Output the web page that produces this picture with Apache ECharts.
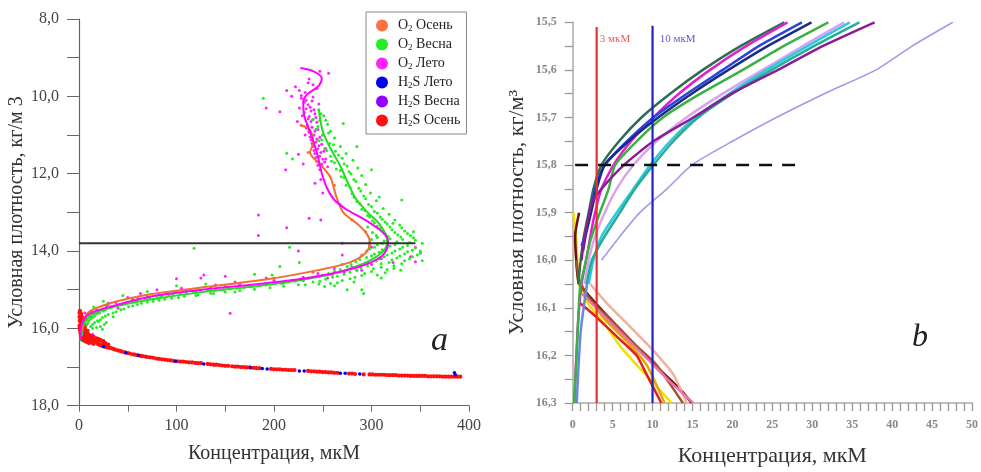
<!DOCTYPE html>
<html><head><meta charset="utf-8">
<script src="https://cdn.jsdelivr.net/npm/echarts@6/dist/echarts.min.js"></script>
<style>html,body{margin:0;padding:0;background:#fff}#c{width:981px;height:472px}</style>
</head><body><div id="c"></div><script>
// ---------- Panel a ----------
const aXLabelVals = [0, 100, 200, 300, 400];
const aYLabelVals = [8, 10, 12, 14, 16, 18];
const legendNames = ['O2 Осень', 'O2 Весна', 'O2 Лето', 'H2S Лето', 'H2S Весна', 'H2S Осень'];
const legendRich = ['{f|O}{s|2}{n| Осень}', '{f|O}{s|2}{n| Весна}', '{f|O}{s|2}{n| Лето}', '{f|H}{s|2}{n|S Лето}', '{f|H}{s|2}{n|S Весна}', '{f|H}{s|2}{n|S Осень}'];
const o2AutumnPts = [[228,10.75],[236,10.88],[240,11.2],[235,11.45],[249,11.8],[262,12.3],[268,12.8],[280,13.2],[294,13.5],[298,13.85],[290,14.1],[270,14.35],[240,14.55],[200,14.7],[150,14.9],[100,15.05],[60,15.2],[30,15.38],[12,15.55],[5,15.8],[3,16.0]];
const o2SummerPts = [[222,9.75],[226,9.85],[228,9.98],[232,9.9],[236,9.55],[240,9.7],[247,9.35],[256,9.4],[244,9.8],[231,10.15],[235,10.22],[239,10.12],[233,10.32],[238,10.38],[242,10.45],[236,10.52],[240,10.6],[244,10.67],[234,10.74],[239,10.8],[245,10.86],[236,10.93],[241,11.0],[247,11.06],[238,11.12],[243,11.18],[249,11.24],[240,11.3],[245,11.36],[251,11.42],[242,11.48],[247,11.55],[253,11.62],[244,11.68],[249,11.75],[255,11.82],[192,10.3],[206,10.4],[213,9.85],[218,10.0],[225,11.5],[212,11.9],[230,11.75],[248,12.15],[184,13.07],[184,13.6],[236,13.15],[248,13.2],[213,13.4],[225,14.0],[270,14.1],[350,14.05],[345,14.28],[300,13.9],[272,14.55],[262,14.45],[192,14.7],[128,14.62],[100,14.72],[155,15.61],[63,15.1],[50,15.2],[30,15.35],[40,15.48],[20,15.55],[12,15.7],[8,15.9],[105,14.96],[140,14.88],[160,14.8],[270,13.8],[280,14.42],[245,14.58],[255,14.7],[230,14.76],[210,14.82],[175,14.92],[120,15.05],[85,15.15],[60,15.28],[45,15.38],[25,15.5],[15,15.62],[10,15.8],[5,16.0],[3,16.2],[14,16.15],[8,16.25],[345,13.9],[340,14.15],[322,14.3],[290,14.5],[250,12.5],[242,12.25],[150,14.65],[125,14.7],[80,15.0],
 [228,10.05],[233,10.1],[237,10.28],[231,10.42],[241,10.35],[235,10.58],[243,10.55],[238,10.65],[233,10.82],[242,10.9],[237,11.05],[244,11.1],[239,11.22],[246,11.28],[241,11.4],[248,11.45],[243,11.58],[250,11.62],[245,11.78],[252,11.7],[247,11.9],[240,10.02],[246,10.2],[226,10.3],[229,10.5],[250,11.0],[253,11.35],[235,9.65],[224,10.65],[232,11.0],
 [200,14.76],[165,14.86],[135,14.95],[110,15.02],[90,15.1],[70,15.18],[55,15.25],[38,15.33],[28,15.42],[18,15.52],[230,14.68],[260,14.6],[285,14.5],[300,14.35],[310,14.2],
 [6,15.6],[9,15.65],[14,15.58],[4,15.7],[7,15.75]];
const o2SpringPts = [[189,10.05],[246,10.35],[251,10.5],[247,10.62],[255,10.72],[243,10.85],[258,10.9],[250,11.0],[262,11.08],[246,11.15],[257,11.22],[268,11.3],[252,11.35],[263,11.42],[274,11.48],[258,11.55],[270,11.6],[281,11.65],[262,11.72],[275,11.8],[286,11.85],[268,11.92],[279,12.0],[290,12.05],[272,12.1],[284,12.2],[294,12.28],[278,12.35],[289,12.45],[299,12.5],[282,12.6],[294,12.65],[305,12.7],[288,12.78],[300,12.85],[312,12.9],[293,12.95],[306,13.02],[318,13.05],[298,13.12],[311,13.18],[324,13.2],[303,13.27],[316,13.3],[329,13.33],[296,13.38],[309,13.42],[321,13.45],[334,13.48],[301,13.52],[314,13.55],[327,13.58],[340,13.6],[306,13.65],[319,13.68],[332,13.7],[345,13.72],[298,13.78],[311,13.8],[324,13.83],[337,13.86],[303,13.9],[316,13.92],[329,13.95],[342,13.98],[295,14.0],[308,14.03],[321,14.05],[334,14.08],[347,14.1],[300,14.12],[313,14.15],[326,14.18],[339,14.2],[288,14.22],[305,14.26],[318,14.3],[331,14.33],[279,14.35],[296,14.38],[310,14.42],[323,14.45],[268,14.48],[285,14.5],[300,14.53],[314,14.56],[256,14.58],[272,14.6],[290,14.63],[243,14.66],[260,14.68],[278,14.72],[230,14.74],[247,14.78],[265,14.82],[215,14.8],[200,14.84],[232,14.87],[185,14.9],[252,14.92],[170,14.94],[290,15.0],[155,14.98],[140,15.01],[125,15.04],[160,15.06],[110,15.08],[138,15.1],[96,15.12],[120,15.15],[84,15.17],[102,15.2],[72,15.22],[88,15.25],[60,15.27],[76,15.3],[50,15.32],[64,15.35],[42,15.38],[55,15.42],[34,15.45],[46,15.5],[27,15.52],[38,15.57],[21,15.6],[30,15.64],[16,15.68],[24,15.72],[12,15.76],[19,15.8],[9,15.86],[14,15.9],[6,15.98],[10,16.05],[4,16.15],[2,16.3],[118,13.93],[213,11.47],[219,11.62],[308,12.6],[331,12.68],[343,13.5],[206,14.4],[216,13.9],[292,15.1],[246,14.85],[350,14.0],[352,14.25],[198,14.62],[240,10.6],[262,14.9],[275,15.0],[226,14.3],[330,14.5],[310,14.7],[282,14.8],[180,14.6],[100,14.9],[130,14.85],[70,15.05],[45,15.15],[25,15.3],[15,15.45],[35,15.7],[28,15.85],[22,15.95],[271,10.7],[285,11.3],[300,11.9],
 [248,10.45],[253,10.62],[245,10.78],[256,10.95],[249,11.12],[261,11.25],[254,11.4],[266,11.52],[259,11.68],[272,11.75],[264,11.88],[277,11.95],[269,12.08],[282,12.15],[274,12.3],[287,12.38],[280,12.52],[292,12.58],[285,12.72],[297,12.8],[290,12.92],[303,12.98],[296,13.08],[309,13.12],[301,13.22],[314,13.25],[322,13.28],[306,13.35],[319,13.38],[331,13.4],[311,13.48],[324,13.52],[337,13.55],[305,13.6],[317,13.62],[330,13.64],[343,13.66],[300,13.7],[313,13.74],[326,13.76],[339,13.78],[352,13.8],[306,13.84],[319,13.87],[332,13.9],[345,13.92],[298,13.95],[311,13.97],[324,14.0],[337,14.02],[350,14.05],[303,14.08],[316,14.1],[329,14.13],[342,14.15],[295,14.17],[308,14.2],[321,14.23],[334,14.25],[284,14.28],[297,14.3],[310,14.33],[323,14.38],[275,14.4],[289,14.43],[302,14.46],[316,14.48],[262,14.52],[278,14.55],[293,14.58],[306,14.62],[250,14.62],[265,14.65],[283,14.68],[236,14.7],[253,14.73],[270,14.76],[222,14.78],[240,14.8],[258,14.84],[208,14.84],[225,14.87],[192,14.88],[210,14.91],[177,14.92],[196,14.95],[162,14.96],[180,14.99],[148,15.0],[165,15.03],[132,15.02],[150,15.06],[117,15.06],[135,15.09],[104,15.1],[122,15.13],[92,15.14],[108,15.17],[80,15.19],[95,15.22],[68,15.24],[82,15.27],[57,15.29],[70,15.32],[48,15.34],[60,15.38],[40,15.4],[51,15.44],[32,15.47],[43,15.52],[25,15.55],[35,15.6],[18,15.62],[27,15.68],[14,15.72],[22,15.78],[10,15.8],[16,15.85],[7,15.9],[12,15.95],[5,16.05],[8,16.1],[3,16.2],[6,16.25],
 [20,15.82],[26,15.9],[18,15.98],[24,16.02],[14,16.0]];
const h2sSummerPts = [[25,16.47],[48,16.63],[61,16.7],[99,16.85],[128,16.92],[176,17.02],[188,17.04],[193,17.05],[226,17.1],[231,17.1],[268,17.16],[273,17.16],[288,17.18],[385,17.15],[386,17.2]];
const h2sSpringPts = [[6,16.2],[10,16.28],[33,16.52],[139,16.95],[250,17.13],[120,16.9]];
const h2sAutumnPts = [[1,15.55],[2,15.62],[0.5,15.7],[3,15.76],[1.5,15.82],[4,15.88],[0.5,15.93],[2.5,15.98],[5,16.02],[1,16.05],[7,16.08],[3,16.1],[9,16.13],[5,16.16],[11,16.18],[2,16.2],[13,16.22],[7,16.24],[15,16.27],[10,16.3],[4,16.3],[17,16.32],[8,16.35],[13,16.37],[19,16.4],[23,16.45],[27,16.48],[31,16.5],[35,16.53],[40,16.57],[44,16.6],[52,16.65],[57,16.68],[65,16.72],[70,16.74],[76,16.76],[82,16.79],[88,16.81],[94,16.83],[104,16.86],[110,16.87],[116,16.88],[122,16.9],[135,16.93],[141,16.94],[147,16.96],[153,16.97],[160,16.99],[166,17.0],[172,17.01],[182,17.03],[200,17.06],[206,17.06],[212,17.07],[218,17.08],[238,17.11],[244,17.12],[250,17.13],[256,17.14],[262,17.15],[280,17.17],[298,17.19],[304,17.2],[310,17.2],[316,17.21],[322,17.21],[328,17.22],[334,17.22],[340,17.23],[346,17.23],[352,17.23],[358,17.24],[364,17.24],[370,17.24],[376,17.25],[382,17.25],[388,17.25],[391,17.25],
 [0.5,15.6],[1.5,15.68],[2.5,15.72],[0.8,15.8],[2,15.86],[3.5,15.92],[1,15.97],[6,15.98],[2,16.02],[3.5,16.05],[8,16.06],[1.5,16.12],[6,16.12],[4,16.18],[8,16.2],[12,16.2],[6,16.28],[10,16.25],[14,16.25],[12,16.32],[16,16.35],[6,16.33],[10,16.38],[15,16.4],[21,16.43],[25,16.46],[29,16.49],[33,16.51],[37,16.55],[42,16.58],[47,16.62],[50,16.64],[55,16.67],[60,16.69],[63,16.71],[68,16.73],[73,16.75],[79,16.78],[85,16.8],[91,16.82],[97,16.84],[101,16.85],[107,16.86],[113,16.88],[119,16.89],[125,16.9],[132,16.92],[138,16.94],[144,16.95],[150,16.97],[157,16.98],[163,16.99],[169,17.0],[175,17.01],[179,17.02],[185,17.03],[197,17.05],[203,17.06],[209,17.07],[215,17.08],[221,17.08],[235,17.1],[241,17.11],[247,17.12],[253,17.13],[259,17.14],[265,17.15],[277,17.17],[283,17.18],[292,17.19],[301,17.19],[307,17.2],[313,17.2],[319,17.21],[325,17.21],[331,17.22],[337,17.22],[343,17.23],[349,17.23],[355,17.23],[361,17.24],[367,17.24],[373,17.25],[379,17.25],[385,17.25],
 [5,16.15],[10,16.18],[15,16.22],[18,16.26],[22,16.3],[25,16.33],[20,16.36],[12,16.28],[16,16.3],[9,16.27],[3,16.25],[7,16.22],[11,16.24],[20,16.28],[27,16.38],[30,16.42],[24,16.4],[2,15.65],[3,15.72],[1,15.78],[4,15.84],[2,15.9],[5,15.95],[3,16.0],[6,16.05],[2,16.08],[8,16.1],[4,16.14]];
const o2SummerLine = [[227,9.27],[240,9.35],[249,9.53],[245,9.75],[234,9.95],[230,10.15],[231,10.5],[236,10.85],[240,11.13],[245,11.55],[249,11.99],[254,12.35],[262,12.68],[274,12.92],[289,13.13],[300,13.3],[310,13.48],[316,13.65],[317,13.8],[311,14.12],[288,14.4],[244,14.66],[193,14.83],[124,15.01],[73,15.18],[32,15.44],[11,15.62],[4.5,15.8],[2,15.98],[1.5,16.15],[2,16.3]];
const o2SpringLine = [[246,10.35],[250,10.9],[258,11.35],[268,11.8],[276,12.25],[284,12.65],[296,13.0],[308,13.3],[315,13.6],[316,13.8],[310,14.05],[292,14.32],[258,14.6],[200,14.85],[130,15.05],[75,15.25],[35,15.45],[13,15.65],[5,15.9],[3,16.2]];
const o2AutumnLine = [[227,10.74],[237,10.87],[240,11.2],[237,11.45],[249,11.8],[258,12.1],[264,12.6],[271,13.0],[285,13.29],[295,13.55],[298.5,13.8],[294,14.05],[277,14.3],[244,14.5],[193,14.73],[124,14.95],[73,15.12],[32,15.35],[11,15.56],[4.5,15.8],[2.5,16.1]];
const aRefLine = [[0,13.8],[345,13.8]];

// ---------- Panel b ----------
const bXLabelVals = [0,5,10,15,20,25,30,35,40,45,50];
const bYLabelVals = [15.5,15.6,15.7,15.8,15.9,16.0,16.1,16.2,16.3];
const bO2Colors = ['#2e6e50','#e020d0','#2a44dd','#1c2a85','#3cb043','#d8a4f0','#30c8e0','#26ad96','#8a1c9a','#9c9cec','#6688e0'];
const bO2Curves = [
 [[26.5,15.5],[21,15.55],[16.3,15.6],[12.2,15.65],[8.6,15.7],[5.8,15.75],[3.6,15.8],[2.6,15.85],[2.0,15.9],[1.4,15.95],[1.0,16.0],[0.7,16.05]],
 [[26.9,15.5],[21.7,15.55],[17.2,15.6],[13.3,15.65],[10.1,15.7],[7.3,15.75],[5.1,15.8],[3.6,15.85],[2.8,15.9],[2.2,15.95],[1.7,16.0],[1.1,16.05],[0.6,16.15],[0.2,16.3]],
 [[28.7,15.5],[23.3,15.55],[18.8,15.6],[14.3,15.65],[10.1,15.7],[6.8,15.75],[4.0,15.8],[2.8,15.85],[2.2,15.9],[1.5,15.95],[1.1,15.97]],
 [[29.9,15.5],[24.4,15.55],[19.5,15.6],[14.9,15.65],[10.7,15.7],[7.0,15.75],[4.0,15.8],[3.0,15.85],[2.3,15.9],[1.6,15.95],[1.3,15.98]],
 [[32.0,15.5],[26.4,15.55],[21.3,15.6],[16.0,15.65],[11.3,15.7],[8.0,15.75],[5.3,15.8],[4.5,15.85],[3.4,15.9],[2.2,15.96],[1.4,16.02],[0.9,16.06],[0.6,16.16],[0.2,16.3]],
 [[34.0,15.5],[28.8,15.55],[23.8,15.6],[18.8,15.65],[14.25,15.7],[10.5,15.75],[7.6,15.8],[5.5,15.85],[4.0,15.9],[2.8,15.95],[2.0,16.0],[1.5,16.05]],
 [[34.7,15.5],[29.4,15.55],[24.25,15.6],[19.6,15.65],[15.3,15.7],[12.2,15.75],[9.7,15.8],[7.6,15.85],[5.5,15.9],[3.6,15.95],[2.6,16.0],[2.0,16.05]],
 [[35.9,15.5],[30.2,15.55],[24.9,15.6],[20.0,15.65],[15.7,15.7],[12.6,15.75],[10.1,15.8],[7.8,15.85],[5.9,15.9],[4.0,15.95],[2.4,16.0],[1.75,16.05]],
 [[37.8,15.5],[31.3,15.55],[25.7,15.6],[19.9,15.65],[15.1,15.7],[10.1,15.75],[6.4,15.8],[3.6,15.85],[2.4,15.88],[1.5,15.95],[1.1,16.0]],
 [[47.6,15.5],[42.5,15.55],[38.0,15.6],[31.5,15.65],[25.5,15.7],[20.0,15.75],[14.9,15.8],[11.8,15.85],[8.4,15.9],[5.9,15.95],[3.6,16.0]],
 [[1.8,16.05],[1.0,16.15],[0.5,16.3]]
];
const bH2SColors = ['#f2e000','#e0a800','#6b1010','#a0522d','#f0b0a0','#e02020','#ee70b0'];
const bH2SCurves = [
 [[0.1,15.9],[0.5,15.97],[0.7,16.045],[1.5,16.08],[2.8,16.11],[4.25,16.14],[5.9,16.18],[8.0,16.22],[9.7,16.25],[11.3,16.28],[12.4,16.3]],
 [[0.3,15.94],[0.6,16.03],[1.75,16.07],[3.8,16.12],[6.75,16.17],[9.25,16.22],[11.5,16.3]],
 [[0.8,15.9],[0.3,15.95],[0.7,16.045],[1.3,16.06],[3.4,16.1],[5.9,16.145],[8.4,16.19],[10.9,16.23],[13.4,16.27],[14.9,16.3]],
 [[0.5,16.0],[0.9,16.05],[2.6,16.09],[5.1,16.13],[8.0,16.18],[10.5,16.22],[13.8,16.3]],
 [[2.2,16.05],[4.25,16.09],[7.2,16.14],[10.1,16.19],[12.6,16.24],[14.25,16.3]],
 [[0.9,16.09],[3.0,16.12],[5.5,16.16],[8.0,16.2],[9.25,16.24],[11.1,16.3]],
 [[1.2,16.07],[3.5,16.11],[6.5,16.16],[9.5,16.21],[12.5,16.26],[15.1,16.3]]
];
const bLine3 = [[3,15.51],[3,16.3]];
const bLine10 = [[10,15.507],[10,16.3]];
const bDashed = [[0.3,15.8],[28.5,15.8]];
const bLabel3 = [[3.4,15.535]];
const bLabel10 = [[10.9,15.535]];

const SERIF = 'Liberation Serif';
const fmtComma = v => v.toFixed(1).replace('.', ',');
const near = (arr, v) => arr.some(a => Math.abs(a - v) < 1e-6);

const chart = echarts.init(document.getElementById('c'), null, {renderer: 'canvas'});

const series = [];
function scat(name, data, color, size) {
  series.push({name, type: 'scatter', xAxisIndex: 0, yAxisIndex: 0, data, symbolSize: size || 3,
    itemStyle: {color, opacity: 1}, silent: true, animation: false, large: false});
}
scat('O2 Осень', o2AutumnPts, '#ff7040');
scat('O2 Лето', o2SummerPts, '#ff22ff');
scat('O2 Весна', o2SpringPts, '#22ee22');
scat('H2S Весна', h2sSpringPts, '#9400ff', 3.5);
scat('H2S Осень', h2sAutumnPts, '#ff1010', 4.2);
scat('H2S Лето', h2sSummerPts, '#0000ee', 3.5);
function lineA(data, color, w, extra) {
  series.push(Object.assign({type: 'line', xAxisIndex: 0, yAxisIndex: 0, data, showSymbol: false, symbol: 'none',
    lineStyle: {color, width: w}, silent: true, animation: false}, extra || {}));
}
lineA(o2SpringLine, '#22dd22', 2, {smooth: 0.3});
lineA(o2AutumnLine, '#f07030', 2, {smooth: 0.3});
lineA(o2SummerLine, '#ff00ff', 2, {smooth: 0.3});
lineA(aRefLine, '#333333', 2);

function lineB(data, color, w, extra) {
  series.push(Object.assign({type: 'line', xAxisIndex: 1, yAxisIndex: 1, data, showSymbol: false, symbol: 'none',
    lineStyle: {color, width: w}, silent: true, animation: false}, extra || {}));
}
bH2SCurves.forEach((c, i) => lineB(c, bH2SColors[i], 2.5, {smooth: 0.2}));
bO2Curves.forEach((c, i) => lineB(c, bO2Colors[i], i === 9 ? 1.6 : 2.5, {smooth: 0.2}));
lineB(bLine3, '#e83030', 2.2);
lineB(bLine10, '#2020c8', 2.2);
lineB(bDashed, '#111111', 2.5, {lineStyle: {color: '#111', width: 2.5, type: [13, 10]}});
function labelB(data, text, color) {
  series.push({type: 'scatter', xAxisIndex: 1, yAxisIndex: 1, data, symbolSize: 0, silent: true, animation: false,
    label: {show: true, position: 'right', distance: 0, formatter: text, color, fontFamily: SERIF, fontSize: 11}});
}
labelB(bLabel3, '3 мкМ', '#e03030');
labelB(bLabel10, '10 мкМ', '#3030c0');

const option = {
  backgroundColor: '#ffffff',
  animation: false,
  grid: [
    {left: 79, top: 19, width: 390, height: 386.7},
    {left: 572.7, top: 22.3, width: 399.6, height: 386}
  ],
  legend: {
    data: legendNames, orient: 'vertical', left: 366, top: 12, icon: 'circle',
    itemWidth: 12, itemHeight: 12, itemGap: 4, padding: [6, 6, 6, 10],
    borderColor: '#888', borderWidth: 1, backgroundColor: '#fff',
    selectedMode: false,
    formatter: n => legendRich[legendNames.indexOf(n)],
    textStyle: {fontFamily: SERIF, fontSize: 14, color: '#222',
      rich: {f: {fontFamily: SERIF, fontSize: 14, color: '#222', lineHeight: 16, padding: [0, 0, 0, 5]},
             n: {fontFamily: SERIF, fontSize: 14, color: '#222', lineHeight: 16},
             s: {fontFamily: SERIF, fontSize: 9, color: '#222', lineHeight: 16, padding: [6, 0, 0, 0]}}}
  },
  xAxis: [
    {type: 'value', gridIndex: 0, min: 0, max: 400, interval: 50,
     name: 'Концентрация, мкМ', nameLocation: 'middle', nameGap: 38,
     nameTextStyle: {fontFamily: SERIF, fontSize: 20, color: '#333'},
     axisLine: {onZero: false, lineStyle: {color: '#666', width: 1.2}},
     axisTick: {show: true, length: 6, lineStyle: {color: '#666'}},
     axisLabel: {margin: 12, fontFamily: SERIF, fontSize: 16, color: '#444',
       formatter: v => near(aXLabelVals, v) ? String(v) : ''},
     splitLine: {show: false}},
    {type: 'value', gridIndex: 1, min: 0, max: 50, interval: 1,
     name: 'Концентрация, мкМ', nameLocation: 'middle', nameGap: 42,
     nameTextStyle: {fontFamily: SERIF, fontSize: 22, color: '#333'},
     axisLine: {onZero: false, lineStyle: {color: '#aaa', width: 1.5}},
     axisTick: {show: true, length: 8, lineStyle: {color: '#999', width: 1.3}},
     axisLabel: {margin: 16, fontFamily: SERIF, fontSize: 12, fontWeight: 'bold', color: '#888',
       formatter: v => near(bXLabelVals, v) ? String(v) : ''},
     splitLine: {show: false}}
  ],
  yAxis: [
    {type: 'value', gridIndex: 0, min: 8, max: 18, interval: 1, inverse: true,
     name: 'Условная плотность, кг/м 3', nameLocation: 'middle', nameGap: 52, nameRotate: 90,
     nameTextStyle: {fontFamily: SERIF, fontSize: 20, color: '#333'},
     axisLine: {onZero: false, lineStyle: {color: '#666', width: 1.2}},
     axisTick: {show: true, length: 12, lineStyle: {color: '#666'}},
     axisLabel: {margin: 20, fontFamily: SERIF, fontSize: 16, color: '#444',
       formatter: v => near(aYLabelVals, v) ? fmtComma(v) : ''},
     splitLine: {show: false}},
    {type: 'value', gridIndex: 1, min: 15.5, max: 16.3, interval: 0.05, inverse: true,
     name: 'Условная плотность, кг/м³', nameLocation: 'middle', nameGap: 44, nameRotate: 90,
     nameTextStyle: {fontFamily: SERIF, fontSize: 22, color: '#333'},
     axisLine: {onZero: false, lineStyle: {color: '#aaa', width: 1.5}},
     axisTick: {show: true, length: 8, lineStyle: {color: '#999', width: 1.3}},
     axisLabel: {margin: 16, fontFamily: SERIF, fontSize: 12, fontWeight: 'bold', color: '#888',
       formatter: v => near(bYLabelVals, v) ? fmtComma(v) : ''},
     splitLine: {show: false}}
  ],
  graphic: [
    {type: 'text', left: 431, top: 324, style: {text: 'a', font: 'italic 34px "Liberation Serif"', fill: '#222'}},
    {type: 'text', left: 912, top: 322, style: {text: 'b', font: 'italic 32px "Liberation Serif"', fill: '#222'}}
  ],
  series
};
chart.setOption(option);
</script></body></html>
